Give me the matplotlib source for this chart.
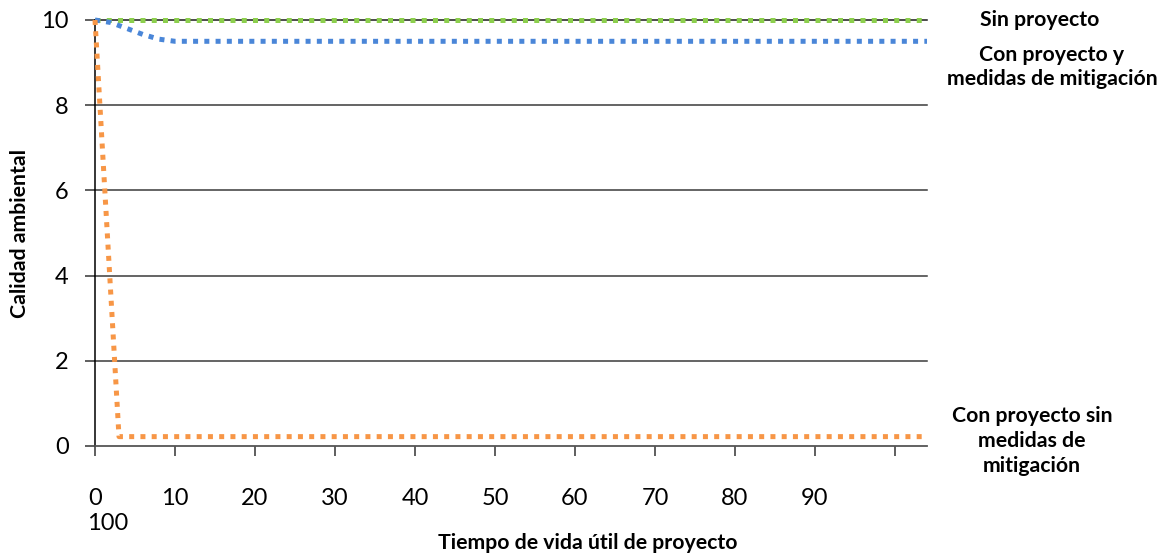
import matplotlib
matplotlib.use("Agg")
import matplotlib.pyplot as plt

plt.rcParams["font.family"] = ["Lato", "DejaVu Sans"]

# años de vida útil y calidad ambiental
x_sin = [0, 104]
y_sin = [10, 10]

x_mit = [0, 2, 4, 6, 8, 10, 104]
y_mit = [10, 9.94, 9.8, 9.66, 9.55, 9.5, 9.5]

x_nomit = [0, 3, 104]
y_nomit = [10, 0.22, 0.22]

X_TICKS = [0, 10, 20, 30, 40, 50, 60, 70, 80, 90, 100]
X_LABELS = ["0", "10", "20", "30", "40", "50", "60", "70", "80", "90", ""]
Y_TICKS = [0, 2, 4, 6, 8, 10]

W, H = 1165, 556
fig = plt.figure(figsize=(W / 100, H / 100), dpi=100)
ax = fig.add_axes([95 / W, 1 - 446 / H, (927 - 95) / W, (446 - 20) / H])

ax.set_xlim(0, 104)
ax.set_ylim(0, 10)

# líneas de cuadrícula horizontales
for yv in Y_TICKS[1:]:
    ax.axhline(yv, color="#1a1a1a" if yv == 10 else "#3a3a3a", lw=1.1,
               zorder=1, clip_on=False)

dot = dict(lw=3.6, dashes=(1, 1.25), dash_capstyle="butt",
           solid_capstyle="butt", clip_on=False, zorder=3)
ax.plot(x_sin, y_sin, color="#8ccf4d", **dot)
ax.plot(x_mit, y_mit, color="#4a86d8", **dot)
ax.plot(x_nomit, y_nomit, color="#f79646", **dot)

for s in ["top", "right"]:
    ax.spines[s].set_visible(False)
ax.spines["left"].set_color("#000000")
ax.spines["left"].set_linewidth(1.1)
ax.spines["bottom"].set_color("#555555")
ax.spines["bottom"].set_linewidth(1.3)

ax.set_xticks(X_TICKS)
ax.set_xticklabels(X_LABELS)
ax.set_yticks(Y_TICKS)
ax.tick_params(axis="x", length=7, width=1.1, color="#333333",
               labelsize=17, pad=23)
ax.tick_params(axis="y", length=7, width=1.1, color="#333333",
               labelsize=17, pad=12)

# la etiqueta "100" del eje quedó en una segunda línea bajo el 0
fig.text(87 / W, 1 - 523 / H, "100", fontsize=17, ha="left", va="center")

fig.text(588 / W, 1 - 543 / H, "Tiempo de vida útil de proyecto",
         fontsize=15.3, fontweight="bold", ha="center", va="center")
fig.text(20 / W, 1 - 233 / H, "Calidad ambiental", fontsize=15.3,
         fontweight="bold", ha="center", va="center", rotation=90)

fig.text(1040 / W, 1 - 20 / H, "Sin proyecto", fontsize=15.3,
         fontweight="bold", ha="center", va="center")
fig.text(1052 / W, 1 - 67 / H, "Con proyecto y\nmedidas de mitigación",
         fontsize=15.3, fontweight="bold", ha="center", va="center",
         linespacing=1.3)
fig.text(1032 / W, 1 - 441 / H, "Con proyecto sin\nmedidas de\nmitigación",
         fontsize=15.3, fontweight="bold", ha="center", va="center",
         linespacing=1.3)

fig.savefig("out.png", dpi=100, facecolor="white")
